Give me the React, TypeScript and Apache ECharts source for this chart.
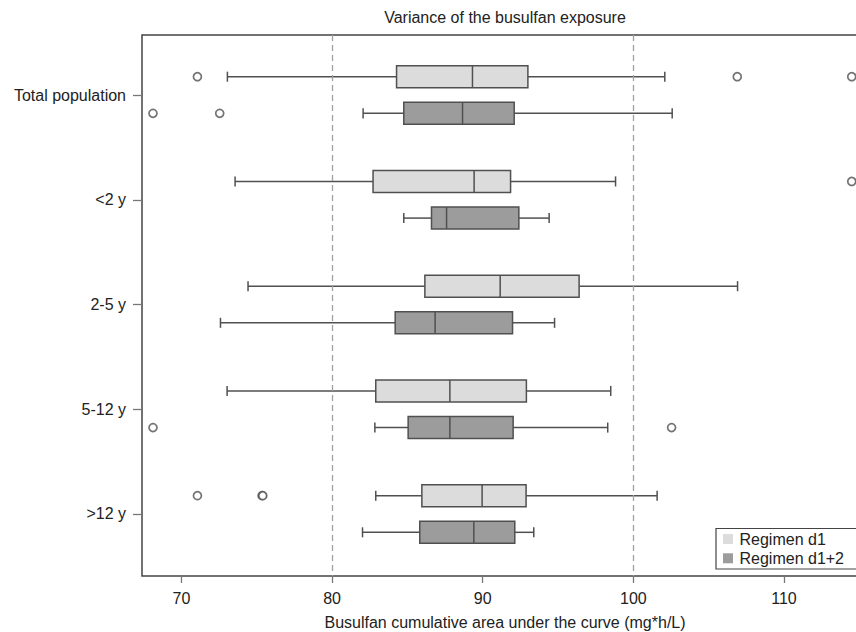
import React, { useEffect, useRef } from "react";
import * as echarts from "echarts";

const categories = ["Total population", "<2 y", "2-5 y", "5-12 y", ">12 y"];
const seriesNames = ["Regimen d1", "Regimen d1+2"];

// [min, q1, median, q3, max] per category
const statsD1 = [
  [73.05, 84.28, 89.32, 93.0, 102.09],
  [73.56, 82.72, 89.43, 91.85, 98.82],
  [74.42, 86.16, 91.16, 96.4, 106.92],
  [73.03, 82.9, 87.82, 92.9, 98.5],
  [82.9, 85.96, 89.96, 92.88, 101.58],
];
const statsD12 = [
  [82.06, 84.76, 88.66, 92.09, 102.58],
  [84.76, 86.6, 87.6, 92.4, 94.41],
  [72.59, 84.19, 86.84, 91.98, 94.77],
  [82.84, 85.05, 87.82, 92.02, 98.3],
  [82.02, 85.82, 89.41, 92.13, 93.39],
];
// [categoryIndex, value]
const outliersD1 = [
  [0, 71.06], [0, 106.9], [0, 114.5], [1, 114.5], [4, 71.06], [4, 75.35], [4, 75.4],
];
const outliersD12 = [
  [0, 68.11], [0, 72.54], [3, 68.11], [3, 102.54],
];
const xTicks = [70, 80, 90, 100, 110];
const refLines = [80, 100];

const LIGHT = "#dcdcdc";
const DARK = "#9c9c9c";
const STROKE = "#505050";
const OFFSET = 0.175;
const BOX_HALF = 0.105;
const CAP_HALF = 0.048;

function makeRender(offset: number, fill: string) {
  return (params: any, api: any) => {
    const cat = api.value(0);
    const v = [api.value(1), api.value(2), api.value(3), api.value(4), api.value(5)];
    const yc = cat + offset;
    const p = v.map((x) => api.coord([x, yc]));
    const y = p[0][1];
    const half = Math.abs(api.size([0, BOX_HALF])[1]);
    const cap = Math.abs(api.size([0, CAP_HALF])[1]);
    const ls = { stroke: STROKE, lineWidth: 1.5 };
    return {
      type: "group",
      children: [
        { type: "line", shape: { x1: p[0][0], y1: y, x2: p[1][0], y2: y }, style: ls },
        { type: "line", shape: { x1: p[0][0], y1: y - cap, x2: p[0][0], y2: y + cap }, style: ls },
        { type: "line", shape: { x1: p[3][0], y1: y, x2: p[4][0], y2: y }, style: ls },
        { type: "line", shape: { x1: p[4][0], y1: y - cap, x2: p[4][0], y2: y + cap }, style: ls },
        {
          type: "rect",
          shape: { x: p[1][0], y: y - half, width: p[3][0] - p[1][0], height: 2 * half },
          style: { fill, stroke: STROKE, lineWidth: 1.5 },
        },
        { type: "line", shape: { x1: p[2][0], y1: y - half, x2: p[2][0], y2: y + half }, style: ls },
      ],
    };
  };
}

export default function App() {
  const ref = useRef<HTMLDivElement>(null);
  useEffect(() => {
    if (!ref.current) return;
    const chart = echarts.init(ref.current, undefined, { renderer: "svg" });
    const boxData = (stats: number[][]) => stats.map((s, i) => [i, ...s]);
    const outData = (outs: number[][], off: number) => outs.map((o) => [o[1], o[0] + off]);
    const font = "'Liberation Sans', Arial, sans-serif";
    const legendColors = [LIGHT, DARK];
    chart.setOption({
      animation: false,
      textStyle: { fontFamily: font },
      legend: { show: false },
      graphic: [
        {
          type: "text",
          x: 505,
          y: 17.5,
          style: {
            text: "Variance of the busulfan exposure",
            fontSize: 16,
            fontFamily: font,
            fill: "#222",
            textAlign: "center",
            textVerticalAlign: "middle",
          },
        },
        {
          type: "group",
          x: 716,
          y: 528.5,
          z: 100,
          children: [
            {
              type: "rect",
              shape: { x: 0, y: 0, width: 170, height: 40.5 },
              style: { fill: "#fff", stroke: "#444", lineWidth: 1.2 },
            },
            ...seriesNames.flatMap((name, i) => [
              {
                type: "rect",
                shape: { x: 7, y: 5.5 + i * 19.3, width: 10, height: 10 },
                style: { fill: legendColors[i] },
              },
              {
                type: "text",
                x: 23.5,
                y: 10.5 + i * 19.3,
                style: {
                  text: name,
                  fontSize: 16,
                  fontFamily: font,
                  fill: "#222",
                  textAlign: "left",
                  textVerticalAlign: "middle",
                },
              },
            ]),
          ],
        },
      ],
      grid: {
        left: 142,
        top: 35,
        width: 726,
        height: 541,
        show: true,
        borderColor: "#444",
        borderWidth: 1.5,
        backgroundColor: "transparent",
        outerBoundsMode: "none",
        containLabel: false,
      },
      xAxis: {
        type: "value",
        min: 67.38,
        max: 115.58,
        splitLine: { show: false },
        axisLine: { show: false, onZero: false },
        axisTick: { show: true, customValues: xTicks, length: 7, lineStyle: { color: "#777", width: 1.3 } },
        axisLabel: { customValues: xTicks, fontSize: 16, color: "#222", margin: 14 },
        name: "Busulfan cumulative area under the curve (mg*h/L)",
        nameLocation: "middle",
        nameGap: 38,
        nameTextStyle: { fontSize: 16, color: "#222" },
      },
      yAxis: {
        type: "value",
        inverse: true,
        min: -0.573,
        max: 4.592,
        splitLine: { show: false },
        axisLine: { show: false, onZero: false },
        axisTick: { show: true, customValues: [0, 1, 2, 3, 4], length: 9, lineStyle: { color: "#777", width: 1.3 } },
        axisLabel: {
          customValues: [0, 1, 2, 3, 4],
          fontSize: 16,
          color: "#222",
          margin: 16,
          formatter: (v: number) => categories[Math.round(v)] ?? "",
        },
      },
      series: [
        {
          type: "line",
          name: "ref",
          data: [],
          z: 1,
          markLine: {
            silent: true,
            symbol: "none",
            label: { show: false },
            lineStyle: { type: [6, 4], color: "#a0a0a0", width: 1.3 },
            data: refLines.map((v) => ({ xAxis: v })),
          },
        },
        {
          type: "custom",
          name: seriesNames[0],
          z: 3,
          itemStyle: { color: LIGHT },
          renderItem: makeRender(-OFFSET, LIGHT),
          encode: { x: [1, 2, 3, 4, 5], y: 0 },
          data: boxData(statsD1),
        },
        {
          type: "custom",
          name: seriesNames[1],
          z: 3,
          itemStyle: { color: DARK },
          renderItem: makeRender(OFFSET, DARK),
          encode: { x: [1, 2, 3, 4, 5], y: 0 },
          data: boxData(statsD12),
        },
        {
          type: "scatter",
          z: 4,
          symbol: "circle",
          symbolSize: 8,
          itemStyle: { color: "#fff", borderColor: STROKE, borderWidth: 1.7 },
          data: [...outData(outliersD1, -OFFSET), ...outData(outliersD12, OFFSET)],
        },
      ],
    });
    return () => chart.dispose();
  }, []);
  return (
    <div
      ref={ref}
      style={{ position: "fixed", left: 0, top: 0, width: 856, height: 632, background: "#fff" }}
    />
  );
}
